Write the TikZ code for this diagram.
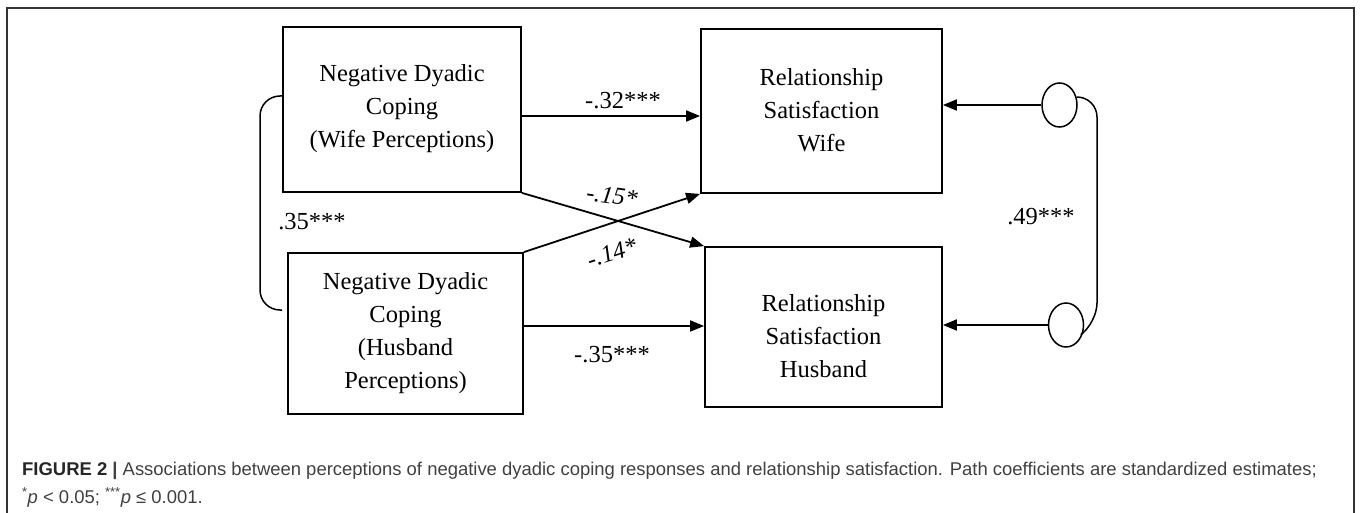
\documentclass[tikz,border=0pt]{standalone}
\usepackage{fontspec}
\setmainfont{Liberation Serif}
\newfontfamily\capfont{Liberation Sans}
\usetikzlibrary{arrows.meta,shapes.geometric}
\begin{document}
\begin{tikzpicture}[x=1pt,y=-1pt,
  boxnode/.style={draw,line width=1.8pt,rectangle,inner sep=0pt},
  txt/.style={font=\fontsize{24.5}{33}\selectfont,align=center,inner sep=0pt},
  lbl/.style={font=\fontsize{24.5}{30}\selectfont,inner sep=0pt},
  arr/.style={line width=1.8pt,-{Triangle[length=14pt,width=11pt]}},
  brk/.style={line width=1.5pt,rounded corners=20pt},
  ell/.style={draw,ellipse,line width=1.5pt,minimum width=35pt,minimum height=44pt,inner sep=0pt},
  captxt/.style={font=\capfont\fontsize{18.45}{28}\selectfont,text=black!75,inner sep=0pt,anchor=base west}
]
\useasboundingbox (0,0) rectangle (1360,513);
\draw[line width=1.5pt,black!80] (7,513) -- (7,8) -- (1354,8) -- (1354,513);

\node[boxnode,minimum width=238pt,minimum height=165pt] (A) at (402,109.5) {};
\node[txt] (At) at (402,109) {Negative Dyadic\\Coping\\(Wife Perceptions)};
\node[boxnode,minimum width=241pt,minimum height=164pt] (B) at (821.5,111) {};
\node[txt] (Bt) at (821.5,110) {Relationship\\Satisfaction\\Wife};
\node[boxnode,minimum width=235pt,minimum height=161pt] (C) at (405.5,333.5) {};
\node[txt] (Ct) at (405.5,333) {Negative Dyadic\\Coping\\(Husband\\Perceptions)};
\node[boxnode,minimum width=237pt,minimum height=160pt] (D) at (823.5,327) {};
\node[txt] (Dt) at (823.5,336) {Relationship\\Satisfaction\\Husband};

\node[ell] (e1) at (1059.5,105) {};
\node[ell] (e2) at (1066,325) {};

\draw[arr] (A.east |- 0,116) -- (B.west |- 0,116);
\draw[arr] (C.east |- 0,326) -- (D.west |- 0,326);
\draw[arr] (A.south east) -- (D.north west);
\draw[arr] (C.north east) -- (B.south west);
\draw[arr] (e1.west) -- (B.east |- e1.west);
\draw[arr] (e2.west) -- (D.east |- e2.west);

\coordinate (l1) at (283,96);
\coordinate (l2) at (282,310);
\draw[brk] (l1) -- (260,96) -- (260,310) -- (l2);
\draw[brk] (e1.25) -- (1097,97) -- (1097,323) -- (e2.-25);

\node[lbl] (k1) at (623,101) {-.32***};
\node[lbl] (k2) at (612,355) {-.35***};
\node[lbl,rotate=-8] (k3) at (612,196) {\itshape -.15*};
\node[lbl,rotate=18] (k4) at (612,253) {\itshape -.14*};
\node[lbl] (k5) at (312,222) {.35***};
\node[lbl] (k6) at (1041,217) {.49***};

\node[captxt] (cap1) at (22,475) {\textbf{\color{black!85}FIGURE 2} \textbf{|} Associations between perceptions of negative dyadic coping responses and relationship satisfaction. Path coefficients are standardized estimates;};
\node[captxt] (cap2) at (22,503) {\textsuperscript{*}\textit{p} < 0.05; \textsuperscript{***}\textit{p} ≤ 0.001.};
\end{tikzpicture}
\end{document}
